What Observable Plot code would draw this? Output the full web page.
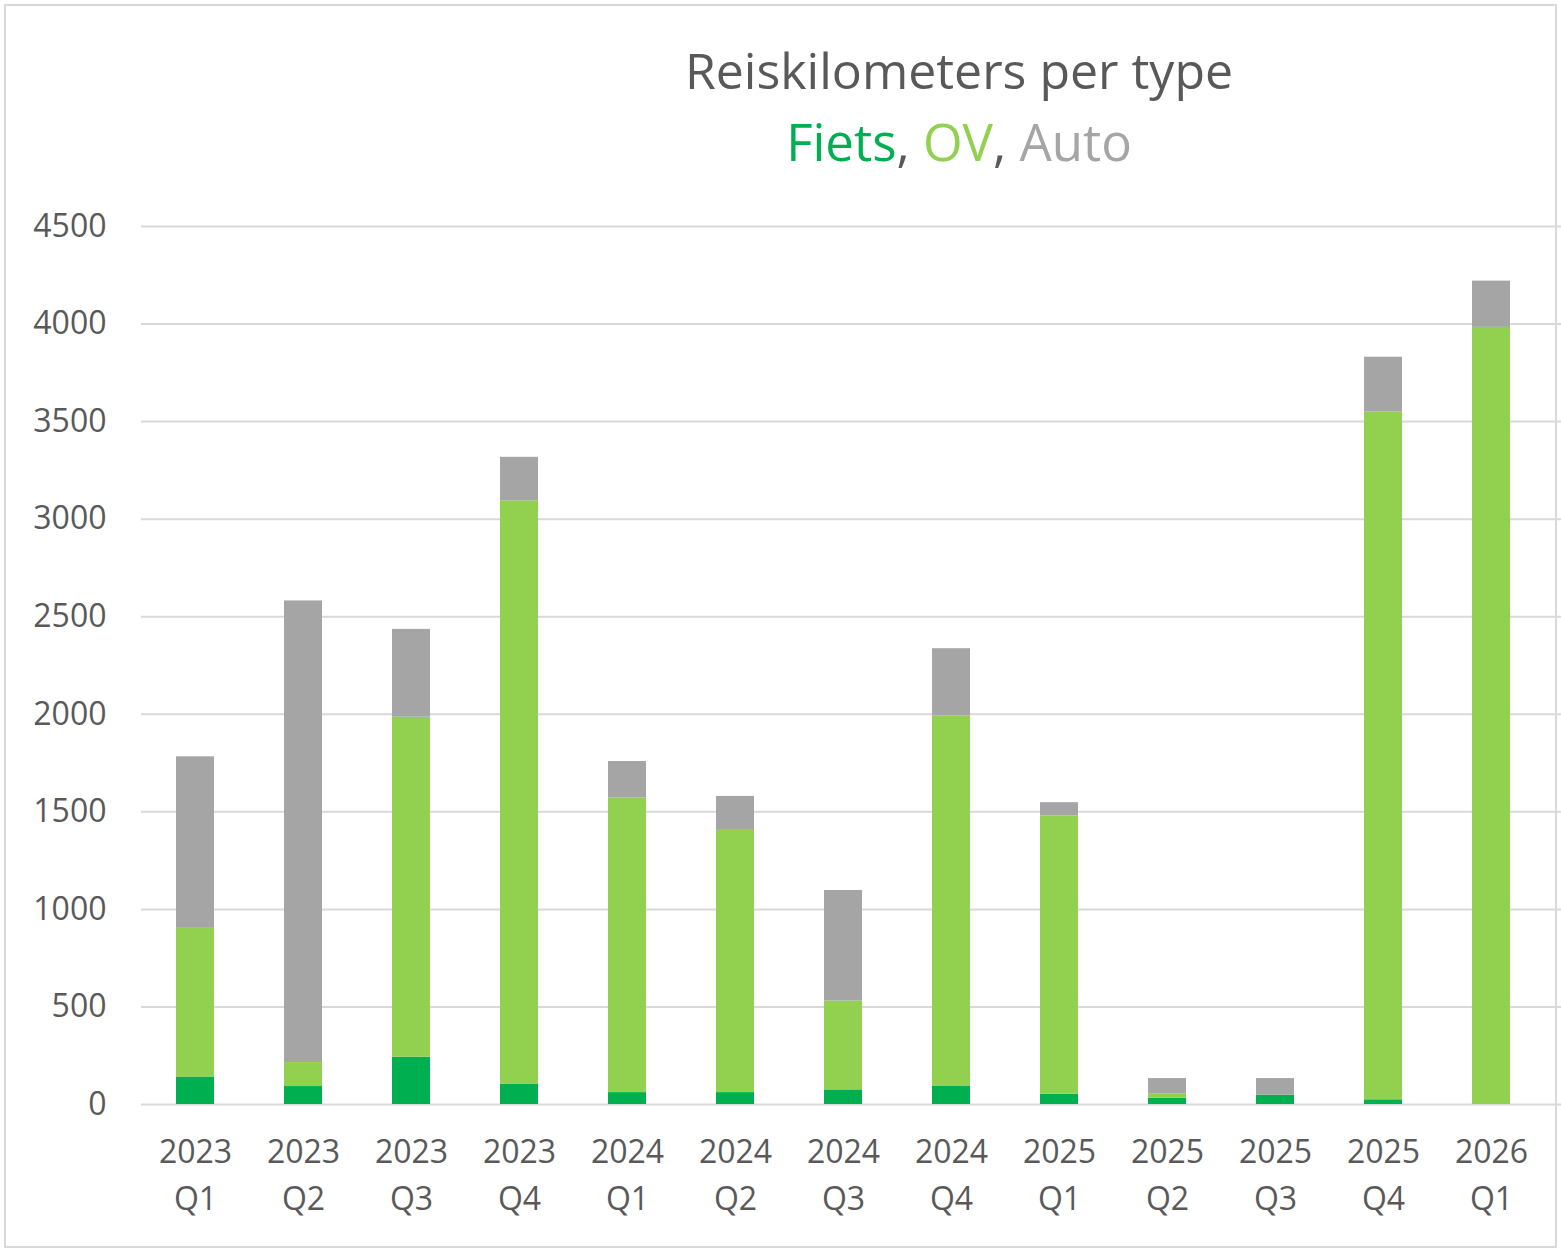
<!DOCTYPE html>
<html>
<head>
<meta charset="utf-8">
<script src="https://cdn.jsdelivr.net/npm/d3@7"></script>
<script src="https://cdn.jsdelivr.net/npm/@observablehq/plot@0.6"></script>
<style>
  html, body { margin: 0; padding: 0; background: #fff; }
  #wrap { position: relative; width: 1561px; height: 1253px; overflow: hidden; font-family: "Open Sans", sans-serif; }
  #border { position: absolute; left: 4px; top: 4px; width: 1549px; height: 1240px; border: 2px solid #d9d9d9; }
  .ttl { position: absolute; left: 559px; width: 800px; text-align: center; font-size: 50px; line-height: 65px; color: #595959; white-space: nowrap; }
  #chart { position: absolute; left: 0; top: 0; }
</style>
</head>
<body>
<div id="wrap">
  <div id="border"></div>
  <div id="chart"></div>
  <div class="ttl" style="top:38px;">Reiskilometers per type</div>
  <div class="ttl" style="top:109px; font-size:51px;"><span style="color:#00b050">Fiets</span>, <span style="color:#92d050">OV</span>, <span style="color:#a5a5a5">Auto</span></div>
</div>
<script>
const categories = ["2023 Q1","2023 Q2","2023 Q3","2023 Q4","2024 Q1","2024 Q2","2024 Q3","2024 Q4","2025 Q1","2025 Q2","2025 Q3","2025 Q4","2026 Q1"];
const fiets = [141, 92, 242, 105, 61, 61, 75, 95, 53, 32, 48, 24, 0];
const ov    = [762, 123, 1743, 2989, 1510, 1344, 455, 1896, 1426, 23, 0, 3525, 3983];
const auto  = [879, 2366, 450, 223, 187, 174, 567, 345, 68, 78, 85, 281, 237];
const seriesNames = ["Fiets", "OV", "Auto"];
const seriesColors = ["#00b050", "#92d050", "#a5a5a5"];
const yTicks = [0, 500, 1000, 1500, 2000, 2500, 3000, 3500, 4000, 4500];

const rows = [];
const seriesValues = [fiets, ov, auto];
categories.forEach((c, i) => {
  seriesNames.forEach((s, j) => rows.push({cat: c, type: s, value: seriesValues[j][i]}));
});

const chart = Plot.plot({
  width: 1561,
  height: 1253,
  marginTop: 226,
  marginBottom: 149,
  marginLeft: 141,
  marginRight: 16,
  style: {fontFamily: "Open Sans, sans-serif", color: "#595959", background: "transparent", overflow: "visible"},
  x: {domain: categories, paddingInner: 0.65, paddingOuter: 0.325, label: null},
  y: {domain: [0, 4500], label: null},
  color: {domain: seriesNames, range: seriesColors},
  marks: [
    Plot.ruleY(yTicks, {stroke: "#d9d9d9", strokeWidth: 2, insetRight: -16}),
    Plot.barY(rows, {x: "cat", y: "value", fill: "type", order: seriesNames}),
    Plot.axisY({ticks: yTicks, tickSize: 0, tickPadding: 35, fontSize: 32, fill: "#595959", tickFormat: d => String(d), label: null}),
    Plot.axisX({tickSize: 0, tickPadding: 26, fontSize: 32, fill: "#595959", lineHeight: 1.45, tickFormat: d => d.replace(" ", "\n"), label: null})
  ]
});
document.getElementById("chart").appendChild(chart);
</script>
</body>
</html>
